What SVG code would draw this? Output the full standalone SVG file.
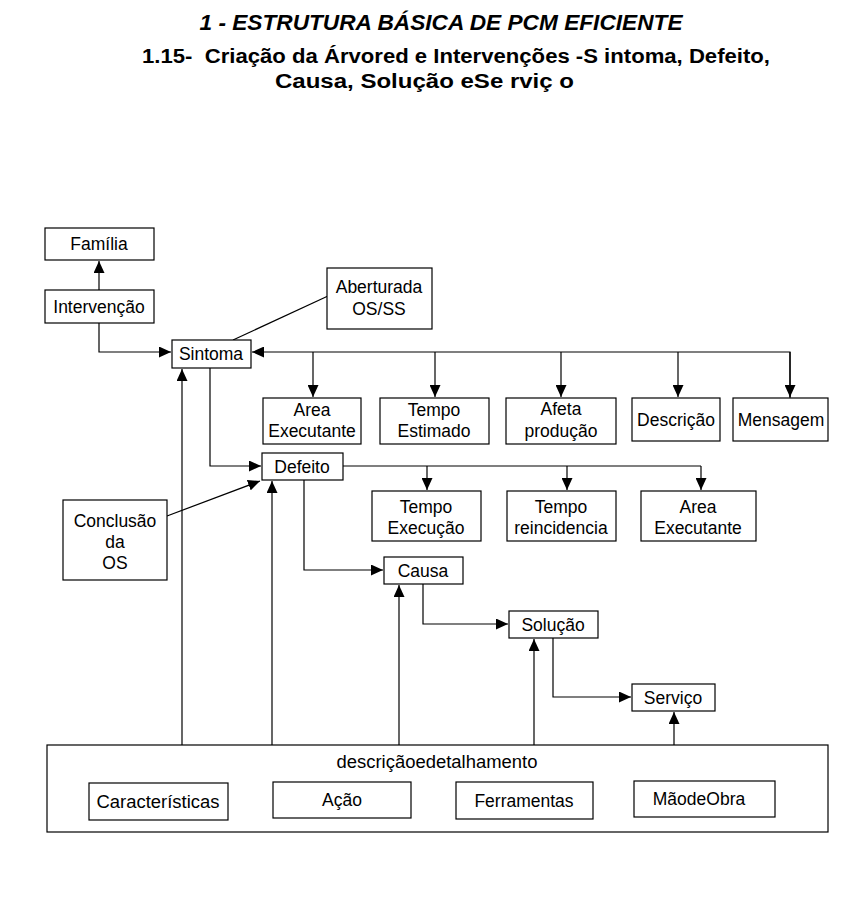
<svg xmlns="http://www.w3.org/2000/svg" width="863" height="898" viewBox="0 0 863 898">
<style>
.n{fill:#fff;stroke:#000;stroke-width:1.2}
.t{font-family:"Liberation Sans",Arial,sans-serif;font-size:17.5px;text-anchor:middle;fill:#000}
.c{fill:none;stroke:#000;stroke-width:1.2}
.h{font-family:"Liberation Sans",Arial,sans-serif;font-weight:bold;fill:#000}
</style>
<defs>
<marker id="a" markerUnits="userSpaceOnUse" markerWidth="13" markerHeight="11" refX="12" refY="5.5" orient="auto">
<path d="M0,0 L12,5.5 L0,11 z" fill="#000"/>
</marker>
</defs>
<rect width="863" height="898" fill="#fff"/>
<g id="title">
<text class="h" x="441" y="30" font-size="22.5" font-style="italic" text-anchor="middle" textLength="483" lengthAdjust="spacingAndGlyphs">1 - ESTRUTURA BÁSICA DE PCM EFICIENTE</text>
<text class="h" x="142" y="63" font-size="20" textLength="628" lengthAdjust="spacingAndGlyphs" xml:space="preserve">1.15-  Criação da Árvored e Intervenções -S intoma, Defeito,</text>
<text class="h" x="275" y="88" font-size="20" textLength="299" lengthAdjust="spacingAndGlyphs">Causa, Solução eSe rviç o</text>
</g>
<g id="connectors">
<path class="c" d="M99,290 V261" marker-end="url(#a)"/>
<path class="c" d="M99,323 V352 H171" marker-end="url(#a)"/>
<path class="c" d="M328,296 L233,340"/>
<path class="c" d="M790,398 V352 H252" marker-end="url(#a)"/>
<path class="c" d="M313,352 V397" marker-end="url(#a)"/>
<path class="c" d="M435,352 V397" marker-end="url(#a)"/>
<path class="c" d="M561,352 V397" marker-end="url(#a)"/>
<path class="c" d="M678,352 V397" marker-end="url(#a)"/>
<path class="c" d="M790,352 V397" marker-end="url(#a)"/>
<path class="c" d="M210,368 V466 H261" marker-end="url(#a)"/>
<path class="c" d="M343,466 H701"/>
<path class="c" d="M427,466 V490" marker-end="url(#a)"/>
<path class="c" d="M567,466 V490" marker-end="url(#a)"/>
<path class="c" d="M701,466 V490" marker-end="url(#a)"/>
<path class="c" d="M167,516 L260,481" marker-end="url(#a)"/>
<path class="c" d="M304,480 V570 H383" marker-end="url(#a)"/>
<path class="c" d="M423,584 V624 H508" marker-end="url(#a)"/>
<path class="c" d="M553,638 V697 H631" marker-end="url(#a)"/>
<path class="c" d="M182,745 V369" marker-end="url(#a)"/>
<path class="c" d="M272,745 V481" marker-end="url(#a)"/>
<path class="c" d="M399,745 V585" marker-end="url(#a)"/>
<path class="c" d="M534,745 V639" marker-end="url(#a)"/>
<path class="c" d="M674,745 V712" marker-end="url(#a)"/>
</g>
<g id="familia"><rect class="n" x="45" y="228" width="109" height="32"/><text class="t" x="99" y="250">Família</text></g>
<g id="intervencao"><rect class="n" x="45" y="290" width="109" height="33"/><text class="t" x="99" y="313">Intervenção</text></g>
<g id="abertura"><rect class="n" x="327" y="268" width="105" height="61"/><text class="t" x="379" y="293">Aberturada</text><text class="t" x="379" y="315">OS/SS</text></g>
<g id="sintoma"><rect class="n" x="172" y="340" width="79" height="28"/><text class="t" x="211" y="360">Sintoma</text></g>
<g id="area1"><rect class="n" x="263" y="398" width="98" height="46"/><text class="t" x="312" y="416">Area</text><text class="t" x="312" y="437">Executante</text></g>
<g id="tempoest"><rect class="n" x="380" y="398" width="109" height="46"/><text class="t" x="434" y="416">Tempo</text><text class="t" x="434" y="437">Estimado</text></g>
<g id="afeta"><rect class="n" x="506" y="398" width="110" height="46"/><text class="t" x="561" y="415">Afeta</text><text class="t" x="561" y="437">produção</text></g>
<g id="descricao"><rect class="n" x="632" y="398" width="88" height="43"/><text class="t" x="676" y="426">Descrição</text></g>
<g id="mensagem"><rect class="n" x="733" y="398" width="95" height="43"/><text class="t" x="781" y="426">Mensagem</text></g>
<g id="defeito"><rect class="n" x="262" y="453" width="81" height="27"/><text class="t" x="302" y="473">Defeito</text></g>
<g id="tempoexec"><rect class="n" x="372" y="491" width="109" height="50"/><text class="t" x="426" y="513">Tempo</text><text class="t" x="426" y="534">Execução</text></g>
<g id="temporeinc"><rect class="n" x="507" y="491" width="109" height="50"/><text class="t" x="561" y="513">Tempo</text><text class="t" x="561" y="534">reincidencia</text></g>
<g id="area2"><rect class="n" x="641" y="491" width="115" height="50"/><text class="t" x="698" y="513">Area</text><text class="t" x="698" y="534">Executante</text></g>
<g id="conclusao"><rect class="n" x="63" y="500" width="104" height="80"/><text class="t" x="115" y="527">Conclusão</text><text class="t" x="115" y="548">da</text><text class="t" x="115" y="569">OS</text></g>
<g id="causa"><rect class="n" x="384" y="557" width="79" height="27"/><text class="t" x="423" y="577">Causa</text></g>
<g id="solucao"><rect class="n" x="509" y="611" width="89" height="27"/><text class="t" x="553" y="631">Solução</text></g>
<g id="servico"><rect class="n" x="632" y="684" width="83" height="27"/><text class="t" x="673" y="704">Serviço</text></g>
<g id="detalhamento">
<rect class="n" x="47" y="745" width="781" height="87"/>
<text class="t" x="437" y="768" textLength="201" lengthAdjust="spacingAndGlyphs">descriçãoedetalhamento</text>
<rect class="n" x="89" y="783" width="139" height="37"/><text class="t" x="158" y="808" textLength="123" lengthAdjust="spacingAndGlyphs">Características</text>
<rect class="n" x="273" y="782" width="138" height="36"/><text class="t" x="342" y="806">Ação</text>
<rect class="n" x="456" y="782" width="137" height="37"/><text class="t" x="524" y="807">Ferramentas</text>
<rect class="n" x="634" y="781" width="141" height="36"/><text class="t" x="699" y="805">MãodeObra</text>
</g>
</svg>
